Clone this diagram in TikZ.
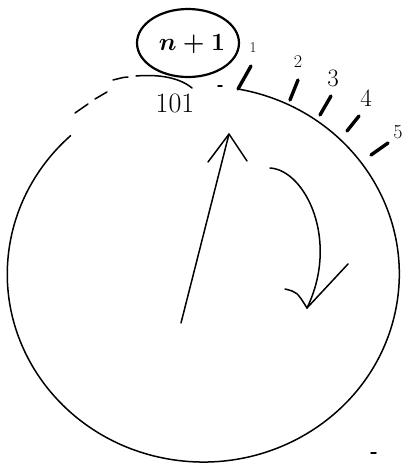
\documentclass[tikz,border=0pt]{standalone}
\usetikzlibrary{arrows.meta}
\begin{document}
\begin{tikzpicture}[x=1pt,y=-1pt,line cap=round,line join=round,
  pen/.style={line width=1.5pt},
  tick/.style={line width=3.4pt},
  lbl/.style={inner sep=0pt,font=\fontsize{#1}{#1}\selectfont},
  lbl/.default=18]
\useasboundingbox (0,0) rectangle (402,464);
% main circle (open at the top)
\coordinate (t1) at (238,89);
\draw[pen] (t1) arc[start angle=-79.8, end angle=227.4, x radius=196, y radius=188];
% broken parts at top left
\draw[pen] (75,113) -- (88,104);
\draw[pen] (95,99) -- (107,92);
\draw[pen] (113,80) .. controls (125,77) .. (128,77);
\draw[pen] (136,76) .. controls (160,74) and (180,78) .. (192,88);
\draw[pen] (218,86) -- (222,86);
% oval label
\draw[line width=2.2pt] (188,43) ellipse[x radius=51, y radius=34];
\node[lbl=30,font=\boldmath\fontsize{30}{30}\selectfont] (n) at (192,44) {$n+1$};
\node[lbl=28] (z) at (175,103) {101};
% ticks
\draw[tick] (t1) -- (251,66);
\coordinate (t2) at (290,100);
\draw[tick] (t2) -- (298,80);
\coordinate (t3) at (320,115);
\draw[tick] (t3) -- (331,96);
\coordinate (t4) at (347,131);
\draw[tick] (t4) -- (359,116);
\coordinate (t5) at (371,155);
\draw[tick] (t5) -- (388,143);
\node[lbl=15] (l1) at (253,48) {1};
\node[lbl=18] (l2) at (298,62) {2};
\node[lbl=25] (l3) at (333,78) {3};
\node[lbl=25] (l4) at (366,98) {4};
\node[lbl=20] (l5) at (398,132) {5};
% straight arrow
\coordinate (a0) at (181,323);
\coordinate (a1) at (229,134);
\draw[pen] (a0) -- (a1);
\draw[pen] (208,162) -- (a1) -- (247,161);
% curved arrow
\coordinate (b0) at (270,168);
\coordinate (b1) at (307,308);
\draw[pen] (b0) .. controls (305,170) and (340,240) .. (b1);
\draw[pen] (348,264) -- (b1);
\draw[pen] (285,289) .. controls (297,292) .. (b1);
% stray mark
\draw[pen] (371,453) -- (376,453);
\end{tikzpicture}
\end{document}
